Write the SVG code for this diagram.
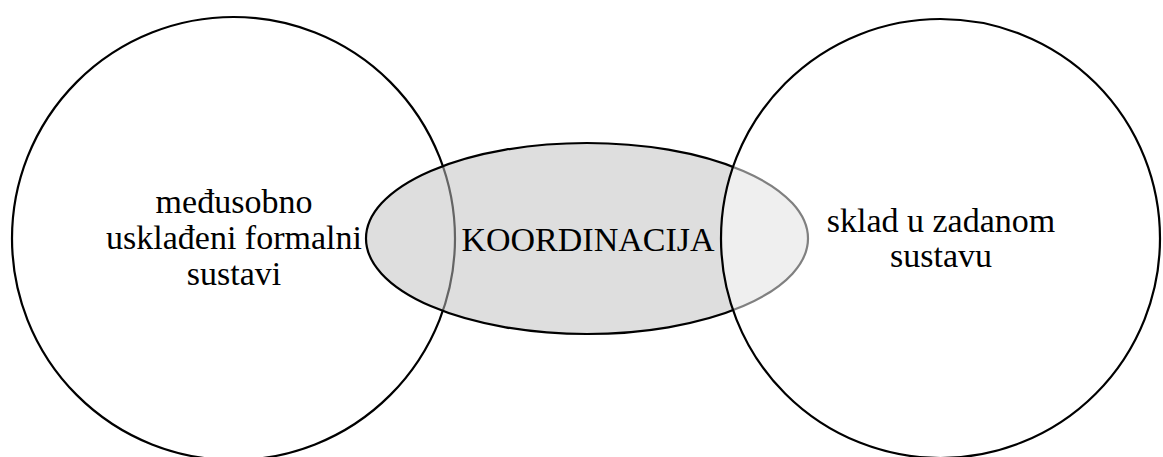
<svg xmlns="http://www.w3.org/2000/svg" width="1163" height="457" viewBox="0 0 1163 457">
<style>
.shape{stroke:#000;stroke-width:2.2}
.lbl{font-family:"Liberation Serif","Times New Roman",serif;font-size:34px;fill:#000;text-anchor:middle}
</style>
<rect width="1163" height="457" fill="#fff"/>
<g id="left-circle">
<circle class="shape" cx="233.5" cy="238.5" r="221.5" fill="#fff"/>
</g>
<g id="center-ellipse">
<ellipse class="shape" cx="587" cy="238.5" rx="221" ry="95.5" fill="#c0c0c0" fill-opacity="0.52"/>
</g>
<g id="right-circle">
<circle class="shape" cx="940.5" cy="238.5" r="219.5" fill="#fff" fill-opacity="0.5"/>
</g>
<g id="connectors"></g>
<g id="labels">
<text class="lbl" x="234" y="213">međusobno</text>
<text class="lbl" x="234" y="249">usklađeni formalni</text>
<text class="lbl" x="234" y="285">sustavi</text>
<text class="lbl" x="588" y="251">KOORDINACIJA</text>
<text class="lbl" x="941" y="232">sklad u zadanom</text>
<text class="lbl" x="941" y="267">sustavu</text>
</g>
</svg>
